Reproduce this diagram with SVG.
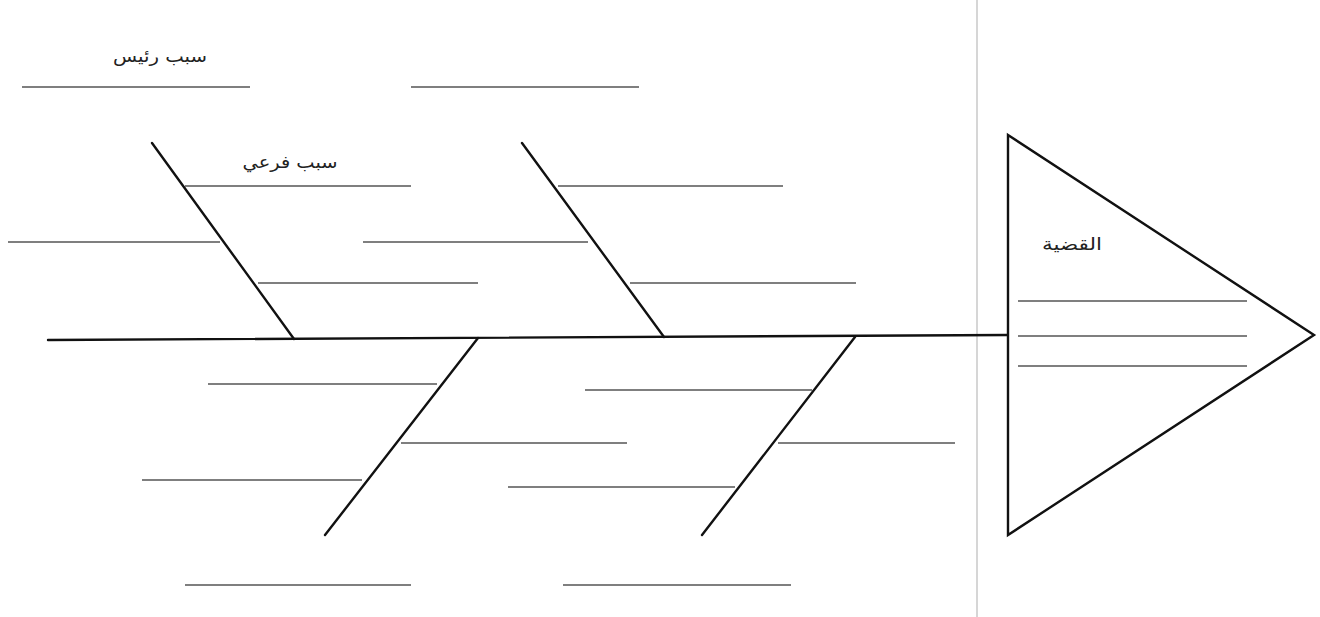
<svg xmlns="http://www.w3.org/2000/svg" width="1320" height="617" viewBox="0 0 1320 617">
<style>
.bone{stroke:#111;stroke-width:2.4;stroke-linecap:round;fill:none}
.sub{stroke:#555;stroke-width:1.6;fill:none}
.lbl{font-family:"DejaVu Sans","Noto Sans",sans-serif;font-size:17px;fill:#222;text-anchor:middle;direction:rtl}
</style>
<rect width="1320" height="617" fill="#fff"/>
<line x1="977" y1="0" x2="977" y2="617" stroke="#c8c8c8" stroke-width="1.5"/>
<g id="connectors">
<line class="bone" x1="48" y1="340" x2="1008" y2="335"/>
<line class="bone" x1="152" y1="143" x2="294" y2="339"/>
<line class="bone" x1="522" y1="143" x2="664" y2="337"/>
<line class="bone" x1="478" y1="338" x2="325" y2="535"/>
<line class="bone" x1="855" y1="337" x2="702" y2="535"/>
</g>
<g id="main-cause-label">
<text class="lbl" x="160" y="62" textLength="94" lengthAdjust="spacingAndGlyphs">سبب رئيس</text>
</g>
<g id="main-cause-lines">
<line class="sub" x1="22" y1="87" x2="250" y2="87"/>
<line class="sub" x1="411" y1="87" x2="639" y2="87"/>
</g>
<g id="bone-top-1">
<text class="lbl" x="290" y="168" textLength="95" lengthAdjust="spacingAndGlyphs">سبب فرعي</text>
<line class="sub" x1="185" y1="186" x2="411" y2="186"/>
<line class="sub" x1="8" y1="242" x2="220" y2="242"/>
<line class="sub" x1="258" y1="283" x2="478" y2="283"/>
</g>
<g id="bone-top-2">
<line class="sub" x1="558" y1="186" x2="783" y2="186"/>
<line class="sub" x1="363" y1="242" x2="588" y2="242"/>
<line class="sub" x1="630" y1="283" x2="856" y2="283"/>
</g>
<g id="bone-bottom-1">
<line class="sub" x1="208" y1="384" x2="437" y2="384"/>
<line class="sub" x1="401" y1="443" x2="627" y2="443"/>
<line class="sub" x1="142" y1="480" x2="362" y2="480"/>
<line class="sub" x1="185" y1="585" x2="411" y2="585"/>
</g>
<g id="bone-bottom-2">
<line class="sub" x1="585" y1="390" x2="812" y2="390"/>
<line class="sub" x1="778" y1="443" x2="955" y2="443"/>
<line class="sub" x1="508" y1="487" x2="735" y2="487"/>
<line class="sub" x1="563" y1="585" x2="791" y2="585"/>
</g>
<g id="problem-head">
<polygon points="1008,135 1314,335 1008,535" fill="#fff" stroke="#111" stroke-width="2.4" stroke-linejoin="miter"/>
<text class="lbl" x="1072" y="250" textLength="60" lengthAdjust="spacingAndGlyphs">القضية</text>
<line class="sub" x1="1018" y1="301" x2="1247" y2="301"/>
<line class="sub" x1="1018" y1="336" x2="1247" y2="336"/>
<line class="sub" x1="1018" y1="366" x2="1247" y2="366"/>
</g>
</svg>
